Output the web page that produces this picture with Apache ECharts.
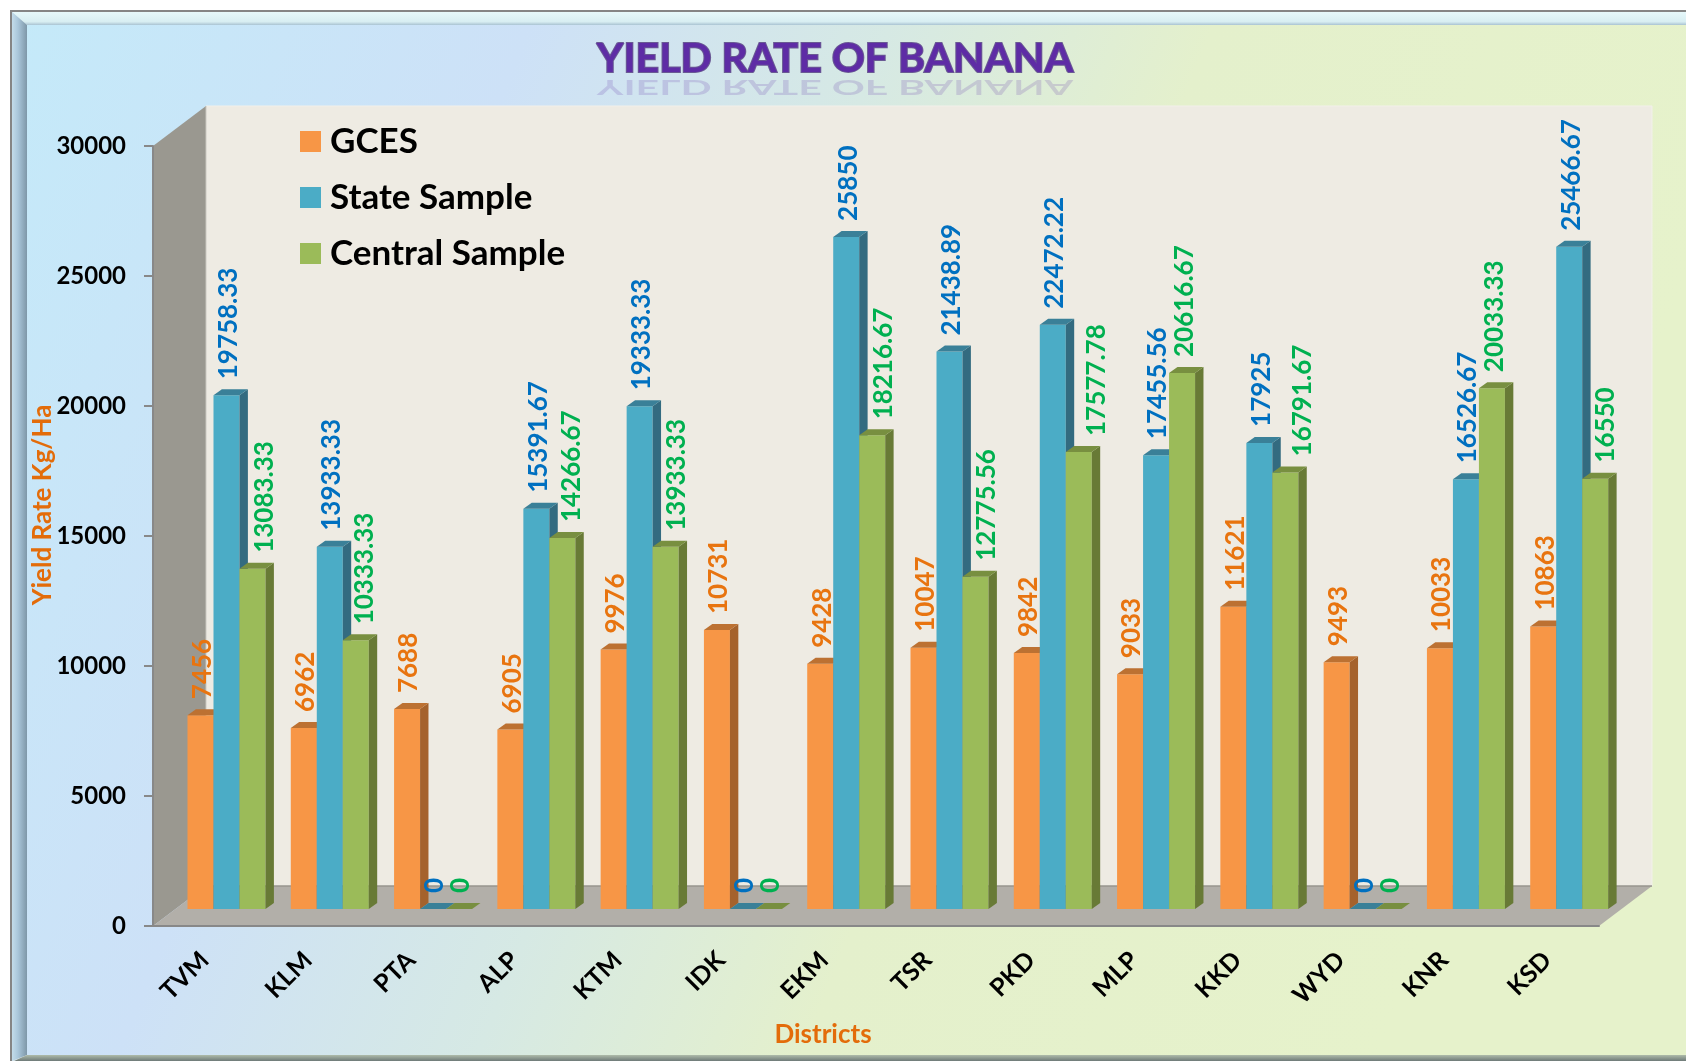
<!DOCTYPE html>
<html><head><meta charset="utf-8">
<style>html,body{margin:0;padding:0;background:#fff;overflow:hidden}#c{width:1686px;height:1061px}</style>
<script src="https://cdn.jsdelivr.net/npm/echarts@6/dist/echarts.min.js"></script>
</head><body><div id="c"></div>
<script>
const categories = ['TVM','KLM','PTA','ALP','KTM','IDK','EKM','TSR','PKD','MLP','KKD','WYD','KNR','KSD'];
const gces = [7456,6962,7688,6905,9976,10731,9428,10047,9842,9033,11621,9493,10033,10863];
const stateSample = [19758.33,13933.33,0,15391.67,19333.33,0,25850,21438.89,22472.22,17455.56,17925,0,16526.67,25466.67];
const centralSample = [13083.33,10333.33,0,14266.67,13933.33,0,18216.67,12775.56,17577.78,20616.67,16791.67,0,20033.33,16550];
const yTicks = {min:0,max:30000,interval:5000};

const FONT = 'Lato, "Open Sans", sans-serif';
const chart = echarts.init(document.getElementById('c'), null, {renderer:'canvas'});

const DEPTH = {x:53, y:40};
const BAR = {w:26, inset:34.5, liftY:17, sx:8.4, sy:6};
// the reference's green labels were moved sideways by hand, clear of the blue bars
const centralLabelNudge = [10,7,0,7,9,0,9,9,16,1,15,0,1,8];

function barSeries(name, values, idx, c, nudge){
  return {
    name, type:'custom', coordinateSystem:'cartesian2d', z:2,
    itemStyle:{color:c.front},
    encode:{x:0,y:1},
    data: values.map((v,i)=>[i,v]),
    renderItem(params, api){
      const i = api.value(0), v = api.value(1);
      const base = api.coord([i,0]), top = api.coord([i,v]);
      const band = api.size([1,0])[0];
      const x = base[0]-band/2+BAR.inset+idx*BAR.w;
      const y0 = base[1]-BAR.liftY, y1 = top[1]-BAR.liftY;
      const w = BAR.w, sx = BAR.sx, sy = BAR.sy;
      const children = [];
      if (v>0) {
        children.push({type:'rect',shape:{x,y:y1,width:w,height:y0-y1},style:{fill:c.front}});
        children.push({type:'polygon',shape:{points:[[x+w,y1],[x+w+sx,y1-sy],[x+w+sx,y0-sy],[x+w,y0]]},style:{fill:c.side}});
      }
      children.push({type:'polygon',shape:{points:[[x,y1],[x+w,y1],[x+w+sx,y1-sy],[x+sx,y1-sy]]},style:{fill:c.top}});
      const lx = x+w/2+2+(nudge?nudge[i]:0);
      children.push({type:'text',x:lx,y:y1-sy-10,rotation:Math.PI/2,z2:100,silent:true,
        style:{text:String(v),fill:c.label,font:'700 26px '+FONT,align:'left',verticalAlign:'middle'}});
      return {type:'group',children};
    }
  };
}

const wallSeries = {
  name:'walls', type:'custom', coordinateSystem:'cartesian2d', z:1, silent:true,
  encode:{x:0,y:1}, data:[[0,0]],
  renderItem(params){
    const g = params.coordSys, L=g.x, R=g.x+g.width, T=g.y, B=g.y+g.height, dx=DEPTH.x, dy=DEPTH.y;
    return {type:'group',children:[
      {type:'rect',shape:{x:L+dx,y:T-dy,width:g.width,height:g.height},style:{fill:'#EEEBE3',stroke:'#F2F0EA',lineWidth:1}},
      {type:'polygon',shape:{points:[[L,T],[L+dx,T-dy],[L+dx,B-dy],[L,B]]},style:{fill:'#9A9890'}},
      {type:'polygon',shape:{points:[[L,B],[L+dx,B-dy],[R+dx,B-dy],[R,B]]},style:{fill:'#B2AFA9'}},
      {type:'line',shape:{x1:L+dx,y1:B-dy,x2:R+dx,y2:B-dy},style:{stroke:'#97958E',lineWidth:1.5}},
      {type:'line',shape:{x1:L+dx,y1:T-dy,x2:L+dx,y2:B-dy},style:{stroke:'#C9C7BF',lineWidth:1}}
    ]};
  }
};

const lg = (x,y,x2,y2,stops)=>new echarts.graphic.LinearGradient(x,y,x2,y2,stops.map((c,i)=>({offset:c[0],color:c[1]})),true);

chart.setOption({
  animation:false,
  backgroundColor:'#fff',
  title:{text:'YIELD RATE OF BANANA',left:835,top:38,padding:0,textAlign:'center',
    textStyle:{fontFamily:FONT,fontWeight:700,fontSize:41,color:'#5E2CA5',textBorderColor:'#6A5A94',textBorderWidth:2}},
  legend:{data:['GCES','State Sample','Central Sample'],orient:'vertical',left:300,top:124,padding:0,
    itemWidth:21,itemHeight:21,itemGap:21,icon:'rect',
    textStyle:{fontFamily:FONT,fontWeight:700,fontSize:35,color:'#000',padding:[0,0,0,4]},selectedMode:false},
  grid:{left:153,top:146,width:1446,height:780,containLabel:false},
  xAxis:{type:'category',data:categories,z:3,
    name:'Districts',nameLocation:'middle',nameGap:96,nameMoveOverlap:false,
    nameTextStyle:{fontFamily:FONT,fontWeight:700,fontSize:26,color:'#E36C0A',padding:[0,106,0,0]},
    axisLine:{lineStyle:{color:'#888888',width:2}},
    axisTick:{length:8,lineStyle:{color:'#888888',width:2}},
    axisLabel:{rotate:45,margin:30,fontFamily:FONT,fontWeight:700,fontSize:25,color:'#000',interval:0}},
  yAxis:{type:'value',min:yTicks.min,max:yTicks.max,interval:yTicks.interval,z:3,
    name:'Yield Rate Kg/Ha',nameLocation:'middle',nameGap:97,nameMoveOverlap:false,
    nameTextStyle:{fontFamily:FONT,fontWeight:700,fontSize:26,color:'#E36C0A',padding:[0,0,0,62]},
    axisLine:{show:true,lineStyle:{color:'#888888',width:2}},
    axisTick:{show:true,length:9,lineStyle:{color:'#888888',width:2}},
    splitLine:{show:false},
    axisLabel:{margin:27,fontFamily:FONT,fontWeight:700,fontSize:24,color:'#000',formatter:v=>String(v)}},
  graphic:[
    {type:'rect',z:-10,shape:{x:11,y:11,width:1690,height:1060},style:{fill:'#DDE9EC',stroke:'#858585',lineWidth:2},silent:true},
    {type:'rect',z:-9,shape:{x:27,y:25,width:1670,height:1030},silent:true,
      style:{fill:lg(0,0,1552,621,[[0,'#C4EAF9'],[0.3,'#CDE1F7'],[0.5,'#D6E9E4'],[0.68,'#E4F0CC'],[1,'#E6F2CB']])}},
    {type:'polygon',z:-8,silent:true,shape:{points:[[12,12],[1690,12],[1690,25],[27,25]]},
      style:{fill:lg(0,12,0,25,[[0,'#E6F8FA'],[0.75,'#D8EEF2'],[1,'#A9C3D2']])}},
    {type:'polygon',z:-8,silent:true,shape:{points:[[12,12],[27,25],[27,1055],[12,1061]]},
      style:{fill:lg(12,0,27,0,[[0,'#C3DCEA'],[0.4,'#A9C6DA'],[1,'#7E97A8']])}},
    {type:'polygon',z:-8,silent:true,shape:{points:[[27,1055],[1690,1055],[1690,1062],[12,1062]]},
      style:{fill:lg(0,1054,0,1061,[[0,'#B9C6B2'],[1,'#6E7A78']])}},
    {type:'text',z:-5,silent:true,x:835,y:76,scaleY:-0.5,
      style:{text:'YIELD RATE OF BANANA',font:'700 41px '+FONT,align:'center',verticalAlign:'bottom',
        fill:'#5E2CA5',opacity:0.18}}
  ],
  series:[
    wallSeries,
    barSeries('GCES',gces,0,{front:'#F79646',side:'#A5622C',top:'#BC7132',label:'#E8740F'}),
    barSeries('State Sample',stateSample,1,{front:'#4BACC6',side:'#336B80',top:'#3A8098',label:'#0070C0'}),
    barSeries('Central Sample',centralSample,2,{front:'#9BBB59',side:'#687A36',top:'#788F40',label:'#00B050'},centralLabelNudge)
  ]
});
</script></body></html>
